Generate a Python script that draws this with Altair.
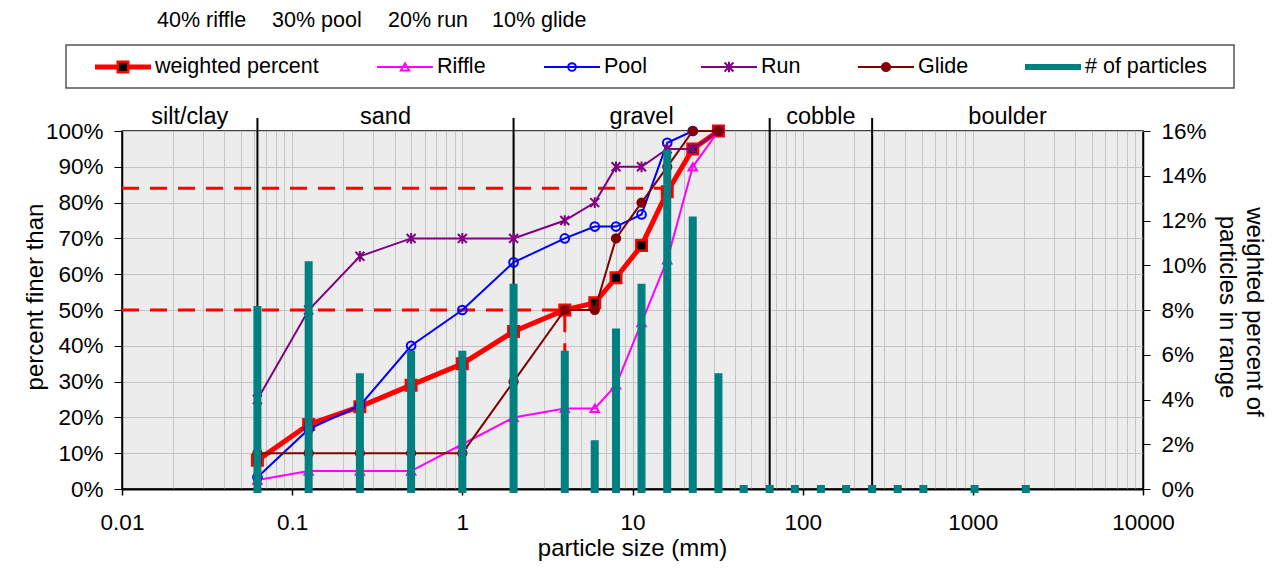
import altair as alt
import pandas as pd

# ---------------- data ----------------
sizes = [0.0625, 0.125, 0.25, 0.5, 1, 2, 4, 6, 8, 11.3, 16, 22.6, 32]
weighted = [8, 18, 23, 29, 35, 44, 50, 52, 59, 68, 83, 95, 100]
riffle = [2.5, 5, 5, 5, 12.5, 20, 22.5, 22.5, 29, 46.5, 64, 90, 100]
pool = [3.3, 16.7, 23.3, 40, 50, 63.3, 70, 73.3, 73.3, 76.7, 96.7, 100, 100]
run = [25, 50, 65, 70, 70, 70, 75, 80, 90, 90, 95, 95, 100]
glide = [10, 10, 10, 10, 10, 30, 50, 50, 70, 80, 90, 100, 100]

bar_sizes = [0.0625, 0.125, 0.25, 0.5, 1, 2, 4, 6, 8, 11.3, 16, 22.6, 32,
             45, 64, 90, 128, 180, 256, 362, 512, 1024, 2048]
bar_pct = [8, 10, 5, 6, 6, 9, 6, 2, 7, 9, 15, 12, 5,
           0, 0, 0, 0, 0, 0, 0, 0, 0, 0]

class_names = ["silt/clay", "sand", "gravel", "cobble", "boulder"]
class_edges = [0.01, 0.0625, 2, 64, 256, 10000]

d50 = 4
d84 = 16.2

weight_texts = ["40% riffle", "30% pool", "20% run", "10% glide"]
legend_names = ["weighted percent", "Riffle", "Pool", "Run", "Glide", "# of particles"]

# ---------------- style ----------------
FONT = "Liberation Sans"
GRID = "#C4C4C4"
BG = "#ECECEC"
RED, MAG, BLUE, PURP, DRED, TEAL = "#FF0000", "#FF00FF", "#0000FF", "#800080", "#800000", "#008080"
W, H = 1021, 358
ASTER = "M-1,-1L1,1M-1,1L1,-1M0,-1.2L0,1.2"

grid_vals = []
for d in range(-2, 4):
    for k in range(1, 10):
        grid_vals.append(float(f"{k}e{d}"))
grid_vals.append(10000.0)

major_test = "abs(log(datum.value)/LN10 - round(log(datum.value)/LN10)) < 0.000001"

xscale = alt.Scale(type="log", domain=[0.01, 10000], nice=False)
xaxis = alt.Axis(values=grid_vals, labelExpr=f"{major_test} ? format(datum.value, '~g') : ''",
                 grid=True, gridColor=GRID, gridWidth=1,
                 tickOpacity={"condition": {"test": major_test, "value": 1}, "value": 0},
                 tickSize=6, tickColor="black", tickWidth=1.5,
                 domainColor="black", domainWidth=2,
                 labelFontSize=22.5, labelColor="black", labelPadding=16,
                 labelFlush=False, labelOverlap=False, title=None)
X = alt.X("size:Q", scale=xscale, axis=xaxis)

yscale_l = alt.Scale(domain=[0, 100], nice=False)
yaxis_l = alt.Axis(values=list(range(0, 101, 10)), labelExpr="datum.value + '%'",
                   grid=True, gridColor=GRID, gridWidth=1, tickSize=8, tickColor="black",
                   domainColor="black", domainWidth=1.5, labelFontSize=22.5,
                   labelColor="black", labelPadding=11, title=None, orient="left")
YL = alt.Y("pct:Q", scale=yscale_l, axis=yaxis_l)

yscale_r = alt.Scale(domain=[0, 16], nice=False)
yaxis_r = alt.Axis(values=list(range(0, 17, 2)), labelExpr="datum.value + '%'",
                   grid=False, tickSize=7, tickColor="black", domainColor="black",
                   domainWidth=1.5, labelFontSize=22.5, labelColor="black",
                   labelPadding=11, title=None, orient="right")

# ---------------- left group ----------------
cls_df = pd.DataFrame({"size": class_edges[1:-1]})
class_lines = alt.Chart(cls_df).mark_rule(color="black", strokeWidth=2).encode(
    x=X, y=alt.value(-13), y2=alt.value(H))

dash_df = pd.DataFrame({
    "grp": ["a", "a", "a", "b", "b", "b"],
    "ord": [0, 1, 2, 0, 1, 2],
    "size": [0.01, d84, d84, 0.01, d50, d50],
    "pct": [84, 84, 0, 50, 50, 0],
})
dashed = alt.Chart(dash_df).mark_line(color=RED, strokeWidth=3, strokeDash=[17, 11]).encode(
    x=X, y=YL, detail="grp:N", order="ord:Q")


def series(vals, color, width, pt):
    df = pd.DataFrame({"size": sizes, "pct": vals})
    base = alt.Chart(df)
    line = base.mark_line(color=color, strokeWidth=width).encode(x=X, y=YL)
    pts = base.mark_point(**pt).encode(x=X, y=YL)
    return [line, pts]


layers = [class_lines, dashed]
layers += series(weighted, RED, 5, dict(shape="square", filled=True, fill="black", stroke=RED,
                                        strokeWidth=2.5, size=110, opacity=1))
layers += series(riffle, MAG, 2, dict(shape="triangle-up", filled=False, color=MAG,
                                      strokeWidth=2, size=70, opacity=1))
layers += series(pool, BLUE, 2, dict(shape="circle", filled=False, color=BLUE,
                                     strokeWidth=2, size=75, opacity=1))
layers += series(run, PURP, 2, dict(shape=ASTER, filled=False, color=PURP,
                                    strokeWidth=2, size=80, opacity=1))
layers += series(glide, DRED, 2, dict(shape="circle", filled=True, color=DRED,
                                      size=105, opacity=1))
left_group = alt.layer(*layers)

# ---------------- right group (bars) ----------------
bar_df = pd.DataFrame({"size": bar_sizes, "pct": bar_pct})
bars = alt.Chart(bar_df).mark_rule(color=TEAL, strokeWidth=8, strokeCap="square").encode(
    x=X, y=alt.Y("pct:Q", scale=yscale_r, axis=yaxis_r), y2=alt.datum(0))

# ---------------- annotations ----------------
one = pd.DataFrame({"k": [0]})


def px_text(txt, x, y, size, align="left", angle=0, baseline="middle"):
    return alt.Chart(one).mark_text(text=txt, align=align, baseline=baseline, fontSize=size,
                                    angle=angle, color="black").encode(
        x=alt.value(x), y=alt.value(y))


ann = []
# class labels
centers = [(class_edges[i] * class_edges[i + 1]) ** 0.5 for i in range(len(class_names))]
cl_df = pd.DataFrame({"size": centers, "name": class_names})
ann.append(alt.Chart(cl_df).mark_text(fontSize=23.5, baseline="middle", color="black").encode(
    x=X, y=alt.value(-14), text="name:N"))

# weights text on top
for t, px in zip(weight_texts, [157, 272, 388, 492]):
    ann.append(px_text(t, px - 122, -110, 21.5))

# legend box
ann.append(alt.Chart(one).mark_rect(fill="white", stroke="#555555", strokeWidth=1.5).encode(
    x=alt.value(66 - 122), x2=alt.value(1234 - 122), y=alt.value(45 - 131), y2=alt.value(88 - 131)))

leg_start = [95, 377, 544, 701, 858, 1025]
leg_colors = [RED, MAG, BLUE, PURP, DRED, TEAL]
leg_widths = [5, 2, 2, 2, 2, 6]
leg_pts = [
    dict(shape="square", filled=True, fill="black", stroke=RED, strokeWidth=2.5, size=110, opacity=1),
    dict(shape="triangle-up", filled=False, color=MAG, strokeWidth=2, size=70, opacity=1),
    dict(shape="circle", filled=False, color=BLUE, strokeWidth=2, size=60, opacity=1),
    dict(shape=ASTER, filled=False, color=PURP, strokeWidth=2, size=80, opacity=1),
    dict(shape="circle", filled=True, color=DRED, size=105, opacity=1),
    None,
]
LY = 67 - 131
for name, sx, col, lw, pt in zip(legend_names, leg_start, leg_colors, leg_widths, leg_pts):
    x0 = sx - 122
    ann.append(alt.Chart(one).mark_rule(color=col, strokeWidth=lw).encode(
        x=alt.value(x0), x2=alt.value(x0 + 56), y=alt.value(LY)))
    if pt is not None:
        ann.append(alt.Chart(one).mark_point(**pt).encode(x=alt.value(x0 + 28), y=alt.value(LY)))
    ann.append(px_text(name, x0 + 60, LY, 21.5))

# axis titles
ann.append(px_text("particle size (mm)", W / 2, 425, 24, align="center", baseline="alphabetic"))
ann.append(px_text("percent finer than", 36 - 122, 297 - 131, 24, align="center", angle=270))
ann.append(px_text("weighted percent of", 1254 - 122, 312 - 131, 24, align="center", angle=90))
ann.append(px_text("particles in range", 1227 - 122, 307 - 131, 24, align="center", angle=90))

ann_group = alt.layer(*ann)

chart = alt.layer(left_group, bars, ann_group).resolve_scale(y="independent").properties(
    width=W, height=H,
    autosize=alt.AutoSizeParams(type="none"),
    padding={"left": 114, "top": 123, "right": 125, "bottom": 73},
).configure(font=FONT).configure_view(fill=BG, stroke="black", strokeWidth=1.5)

chart.save("out.html", embed_options={"renderer": "svg", "actions": False})
